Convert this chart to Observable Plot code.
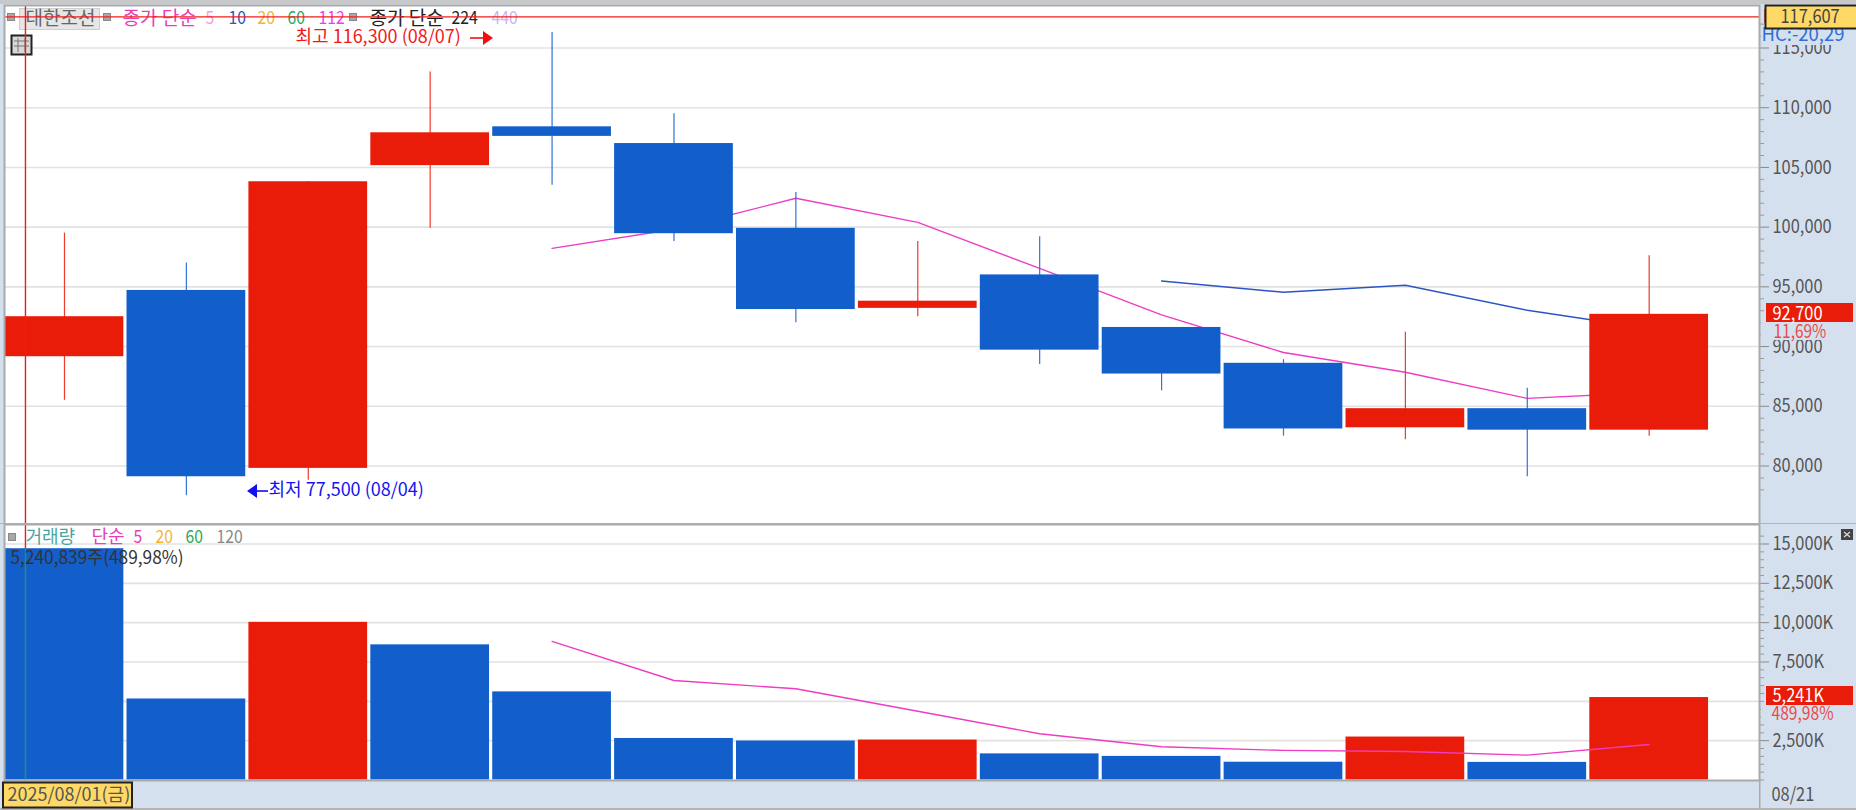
<!DOCTYPE html>
<html>
<head>
<meta charset="utf-8">
<script src="https://cdn.jsdelivr.net/npm/d3@7"></script>
<script src="https://cdn.jsdelivr.net/npm/@observablehq/plot@0.6"></script>
<style>
html,body{margin:0;padding:0;background:#d5e0ee;overflow:hidden}
svg{display:block}
#chart{height:810px;overflow:hidden}
</style>
</head>
<body>
<div id="chart"></div>
<script>
// ---- data ----
const days = ["08/01","08/04","08/05","08/06","08/07","08/08","08/11","08/12","08/13","08/14","08/18","08/19","08/20","08/21"];
const opens  = [89150,94700,79800,105150,108400,107000,99900,93200,96000,91600,88600,83200,84800,83000];
const closes = [92500,79100,103800,107900,107600,99450,93100,93800,89700,87700,83100,84800,83000,92700];
const highs  = [99500,97000,103800,113000,116300,109500,102900,98800,99200,91600,88900,91200,86500,97600];
const lows   = [85500,77500,78800,99900,103500,98800,92000,92500,88500,86300,82500,82200,79100,82500];
const volumes = [14700,5150,10020,8590,5600,2640,2480,2540,1660,1500,1130,2730,1120,5241];
const volumeUp = [false,false,true,false,false,false,false,true,false,false,false,true,false,true];
const ma5Idx = [4,5,6,7,8,9,10,11,12,13];
const ma5 = [98220,99820,102420,100400,96540,92660,89500,87850,85660,86160];
const ma10Idx = [9,10,11,12,13];
const ma10 = [95490,94550,95130,93040,91510];
const volMa5 = [8810,6325,5800,4370,2940,2110,1880,1810,1580,2260];
const priceTicks = [80000,85000,90000,95000,100000,105000,110000,115000];
const priceMinor = [78000,79000,81000,82000,83000,84000,86000,87000,88000,89000,91000,92000,93000,94000,96000,97000,98000,99000,101000,102000,103000,104000,106000,107000,108000,109000,111000,112000,113000,114000,116000,117000];
const volTicks = [2500,5000,7500,10000,12500,15000];
const volLabels = [2500,7500,10000,12500,15000];
const volMinor = [0,500,1000,1500,2000,3000,3500,4000,4500,5500,6000,6500,7000,8000,8500,9000,9500,10500,11000,11500,12000,13000,13500,14000,14500,15500];
const cursorPrice = 117607;
const cursorIndex = -0.32;

const RED="#e91c0a", BLUE="#125ecb", WRED="#ee3a2a", WBLUE="#2f74d6", STRIP="#d5e0ee", MAG="#ee3cc4";
const FONT='"Noto Sans CJK KR","Liberation Sans",sans-serif';
const W=1856, ML=4, MR=97;
const xScale={domain:[-0.492,13.905]};
const halfBody=0.487;
const candles=days.map((d,i)=>({i,open:opens[i],close:closes[i],high:highs[i],low:lows[i]}));
const vols=days.map((d,i)=>({i,v:volumes[i],up:volumeUp[i]}));

function label(str,x,y,fill,size,mt,extra={}){
  return Plot.text([str],{text:d=>d,frameAnchor:"top-left",dx:x-ML,dy:y-mt,lineAnchor:"middle",textAnchor:"start",fill,fontSize:size,...extra});
}
function chrome(draw,dy=0){
  return ()=>{const g=d3.create("svg:g").attr("transform",`translate(0,${dy})`);draw(g);return g.node();};
}
function box(g,x,y,w,h,fill,stroke,sw){
  g.append("rect").attr("x",x).attr("y",y).attr("width",w).attr("height",h).attr("fill",fill)
   .attr("stroke",stroke||"none").attr("stroke-width",sw||0);
}

// ---- price panel ----
const topMT=5;
const pricePanel=Plot.plot({
  width:W,height:524,marginLeft:ML,marginRight:MR,marginTop:topMT,marginBottom:0,
  style:{background:STRIP,fontFamily:FONT,overflow:"hidden"},
  x:{...xScale,axis:null},
  y:{domain:[80000,115000],range:[465.5,47.5],axis:null},
  marks:[
    Plot.frame({fill:"white",stroke:"none"}),
    Plot.ruleY(priceTicks,{stroke:"#e2e2e2",strokeWidth:1.6}),
    Plot.line(ma5Idx.map((k,j)=>({k,v:ma5[j]})),{x:"k",y:"v",stroke:MAG,strokeWidth:1.4}),
    Plot.line(ma10Idx.map((k,j)=>({k,v:ma10[j]})),{x:"k",y:"v",stroke:"#2a55c4",strokeWidth:1.4}),
    Plot.ruleX(candles,{x:"i",y1:"low",y2:"high",stroke:d=>d.close>=d.open?WRED:WBLUE,strokeWidth:1.2}),
    Plot.rect(candles,{x1:d=>d.i-halfBody,x2:d=>d.i+halfBody,y1:"open",y2:"close",fill:d=>d.close>=d.open?RED:BLUE}),
    // legend
    chrome(g=>{
      box(g,19.5,8.5,80,21,"#e6e6e6","#cfcfcf",1);
      [11,107,353].forEach(x=>box(g,x-3.5,13.5,7,7,"#a8a8a8","#888",1));
    }),
    label("대한조선",25,18,"#666",19,topMT),
    label("종가 단순",122,18,"#e93cb8",19,topMT),
    label("5",205,18,"#f0a0d8",18,topMT),
    label("10",228,18,"#2a55c4",18,topMT),
    label("20",257,18,"#f5b335",18,topMT),
    label("60",287,18,"#2aa85a",18,topMT),
    label("112",318,18,"#f03cf0",18,topMT),
    label("종가 단순",369,18,"#222",19,topMT),
    label("224",451,18,"#222",18,topMT),
    label("440",491,18,"#d0b0f0",18,topMT),
    chrome(g=>{
      box(g,11.5,35.5,20,19,"#d8d8d8","#222",2);
      [18,25].forEach(x=>g.append("line").attr("x1",x).attr("x2",x).attr("y1",38).attr("y2",52).attr("stroke","#777"));
      [41,46].forEach(y=>g.append("line").attr("x1",14).attr("x2",29).attr("y1",y).attr("y2",y).attr("stroke","#777"));
    }),
    // annotations
    label("최고 116,300 (08/07)",295,37,"#f01818",18,topMT),
    label("최저 77,500 (08/04)",268,490,"#1414f0",18,topMT),
    chrome(g=>{
      g.append("line").attr("x1",470).attr("x2",485).attr("y1",38).attr("y2",38).attr("stroke","#f01010").attr("stroke-width",1.6);
      g.append("path").attr("d","M483 31L493 38L483 45Z").attr("fill","#f01010");
      g.append("line").attr("x1",255).attr("x2",268).attr("y1",491).attr("y2",491).attr("stroke","#1010f0").attr("stroke-width",1.6);
      g.append("path").attr("d","M257 484L247 491L257 498Z").attr("fill","#1010f0");
    }),
    // axis
    Plot.axisY(priceTicks,{anchor:"right",tickSize:9,tickPadding:4,stroke:"#888",fill:"#555",fontSize:19,tickFormat:d3.format(","),label:null}),
    Plot.axisY(priceMinor,{anchor:"right",tickSize:4,stroke:"#999",tickFormat:()=>"",label:null}),
    // cursor
    Plot.ruleY([cursorPrice],{stroke:"#f01c1c",strokeWidth:1.4}),
    Plot.ruleX([cursorIndex],{stroke:"#f01c1c",strokeWidth:1.4}),
    // frame + top band
    Plot.frame({stroke:"#aaa",strokeWidth:2}),
    chrome(g=>{
      box(g,0,0,W,4,"#c8c8c8");
      box(g,0,523,W,2,"#b4b4b4");
      box(g,1761,28,95,17,STRIP);
      box(g,1761,322,95,18,STRIP);
    }),
    label("LC",1762,17,"#e33",18,topMT),
    label("HC:-20,29",1761,35,"#2f6fd8",18.5,topMT),
    chrome(g=>{
      box(g,1765.5,5.5,92,23,"#fed966","#222",2);
      box(g,1766,303,87,19,RED);
    }),
    label("117,607",1780,16,"#444",19,topMT),
    label("92,700",1772,313,"#fff",19,topMT),
    label("11,69%",1773,331,"#ea4a48",19,topMT)
  ]
});

// ---- volume panel (its svg starts a little above the pane so the legend has headroom) ----
const botMT=0, HEAD=8;
const volumePanel=Plot.plot({
  width:W,height:286+HEAD,marginLeft:ML,marginRight:MR,marginTop:HEAD,marginBottom:30,
  style:{background:"transparent",fontFamily:FONT,overflow:"hidden",marginTop:`-${HEAD}px`,position:"relative"},
  x:{...xScale,axis:null},
  y:{domain:[0,15000],range:[255.5+HEAD,19.5+HEAD],axis:null},
  marks:[
    Plot.frame({fill:"white",stroke:"none"}),
    Plot.ruleY(volTicks,{stroke:"#e2e2e2",strokeWidth:1.6}),
    Plot.rect(vols,{x1:d=>d.i-halfBody,x2:d=>d.i+halfBody,y1:0,y2:"v",fill:d=>d.up?RED:BLUE}),
    Plot.line(ma5Idx.map((k,j)=>({k,v:volMa5[j]})),{x:"k",y:"v",stroke:MAG,strokeWidth:1.4}),
    Plot.ruleX([cursorIndex],{y1:0,y2:volumes[0],stroke:"#1d9a60",strokeWidth:1.4}),
    Plot.ruleX([cursorIndex],{y1:volumes[0],y2:16200,stroke:"#f01c1c",strokeWidth:1.4}),
    chrome(g=>box(g,8.5,9.5,7,7,"#a8a8a8","#888",1),HEAD),
    label("거래량",25,13,"#4aa5a0",18,botMT),
    label("단순",91,13,"#e93cb8",18,botMT),
    label("5",133,13,"#e93cb8",18,botMT),
    label("20",155,13,"#f5b335",18,botMT),
    label("60",185,13,"#2aa85a",18,botMT),
    label("120",216,13,"#888",18,botMT),
    label("5,240,839주(489,98%)",10,34,"#333",18,botMT),
    Plot.axisY(volLabels,{anchor:"right",tickSize:9,tickPadding:4,stroke:"#888",fill:"#555",fontSize:19,tickFormat:d=>d3.format(",")(d)+"K",label:null}),
    Plot.axisY(volMinor.concat([5000]),{anchor:"right",tickSize:4,stroke:"#999",tickFormat:()=>"",label:null}),
    Plot.frame({stroke:"#aaa",strokeWidth:2}),
    chrome(g=>{
      // icon, badge, date strip
      box(g,1841,5,12,11,"#444");
      g.append("path").attr("d","M1844 13L1850 8M1844 8L1850 13").attr("stroke","#ddd").attr("stroke-width",1.2);
      box(g,1766,162,87,19,RED);
      box(g,1761,181,95,16,STRIP);
      box(g,0,284,W,2,"#b4b4b4");
      box(g,1759,256,1.5,28,"#aaa");
      box(g,3,258.5,129,25,"#fed966","#222",2);
    },HEAD),
    label("5,241K",1772,171,"#fff",19,botMT),
    label("489,98%",1771,189,"#ea4a48",19,botMT),
    label("2025/08/01(금)",7,271,"#555",18,botMT),
    label("08/21",1771,270,"#555",19,botMT)
  ]
});

document.getElementById("chart").append(pricePanel,volumePanel);

// The reference's numerals are tall and narrow: keep the height, condense the width.
const charWidth={",":4,"K":10.7,"%":12,"/":6};
document.querySelectorAll("#chart text").forEach(t=>{
  const s=t.textContent;
  const size=parseFloat(getComputedStyle(t).fontSize)/19;
  if(/^[\d,K%\/]+$/.test(s)){
    const w=[...s].reduce((a,c)=>a+(charWidth[c]||9.2),0)*size;
    t.setAttribute("textLength",w);
    t.setAttribute("lengthAdjust","spacingAndGlyphs");
  } else if(s.startsWith("5,240,839")){
    t.setAttribute("textLength",173);
    t.setAttribute("lengthAdjust","spacingAndGlyphs");
  }
});
</script>
</body>
</html>
